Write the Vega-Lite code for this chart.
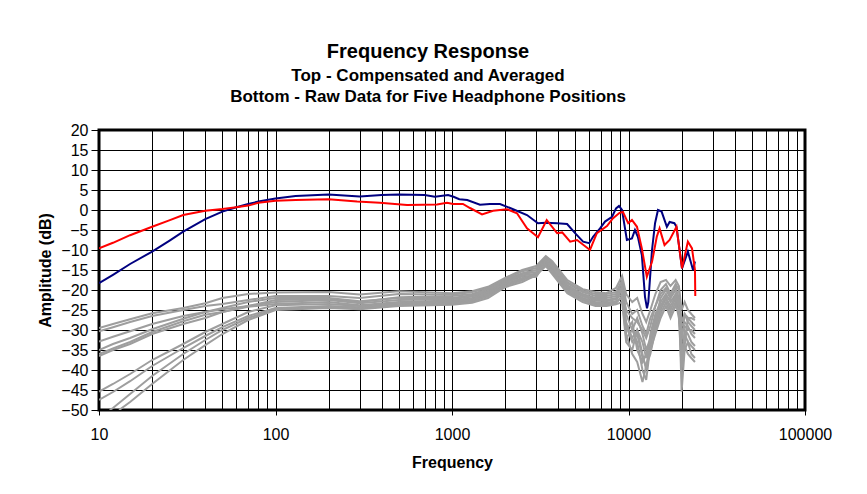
{
"$schema": "https://vega.github.io/schema/vega-lite/v6.json",
"width": 706, "height": 280,
"autosize": {"type": "none"},
"padding": {"left": 99, "top": 130, "right": 62, "bottom": 84},
"background": "white",
"config": {"view": {"stroke": "black", "strokeWidth": 3}, "font": "Liberation Sans"},
"title": {"text": "Frequency Response", "subtitle": ["Top -  Compensated and Averaged", "Bottom - Raw Data for Five Headphone Positions"], "anchor": "middle", "frame": "group", "dx": -24, "offset": 17, "fontSize": 20, "fontWeight": "bold", "font": "Liberation Sans", "color": "#000", "subtitleFontSize": 17, "subtitleFontWeight": "bold", "subtitleColor": "#000", "subtitleFont": "Liberation Sans", "subtitlePadding": 6, "subtitleLineHeight": 21.5},
"datasets": {
"gray": [
{"s":"g1","f":10,"d":-29.5},{"s":"g1","f":12,"d":-28.5},{"s":"g1","f":15,"d":-27.3},{"s":"g1","f":20,"d":-25.8},{"s":"g1","f":30,"d":-24.5},{"s":"g1","f":40,"d":-23.3},{"s":"g1","f":50,"d":-22},{"s":"g1","f":70,"d":-21},{"s":"g1","f":100,"d":-20.6},{"s":"g1","f":200,"d":-20.5},{"s":"g1","f":300,"d":-21.1},{"s":"g1","f":500,"d":-20.3},{"s":"g1","f":1000,"d":-20.8},{"s":"g1","f":1300,"d":-20.3},{"s":"g1","f":1600,"d":-19.2},{"s":"g1","f":2000,"d":-17},{"s":"g1","f":2500,"d":-15},{"s":"g1","f":3000,"d":-14},{"s":"g1","f":3400,"d":-11.5},{"s":"g1","f":3700,"d":-12.8},{"s":"g1","f":4500,"d":-17.5},{"s":"g1","f":5500,"d":-19.8},{"s":"g1","f":6500,"d":-20.5},{"s":"g1","f":7500,"d":-20.8},{"s":"g1","f":8500,"d":-19.5},{"s":"g1","f":9200,"d":-16.5},{"s":"g1","f":9700,"d":-21},{"s":"g1","f":10500,"d":-23},{"s":"g1","f":11200,"d":-22},{"s":"g1","f":12000,"d":-26},{"s":"g1","f":12600,"d":-28},{"s":"g1","f":13300,"d":-25},{"s":"g1","f":14200,"d":-21},{"s":"g1","f":15200,"d":-18},{"s":"g1","f":16300,"d":-17.5},{"s":"g1","f":17300,"d":-19},{"s":"g1","f":18500,"d":-17.5},{"s":"g1","f":19300,"d":-19},{"s":"g1","f":20000,"d":-25},{"s":"g1","f":20800,"d":-23},{"s":"g1","f":21700,"d":-25},{"s":"g1","f":22700,"d":-26},{"s":"g1","f":23800,"d":-27},
{"s":"g2","f":10,"d":-30.3},{"s":"g2","f":12,"d":-29.3},{"s":"g2","f":15,"d":-28},{"s":"g2","f":20,"d":-26.5},{"s":"g2","f":30,"d":-25},{"s":"g2","f":40,"d":-24},{"s":"g2","f":50,"d":-23.5},{"s":"g2","f":70,"d":-22.5},{"s":"g2","f":100,"d":-21.5},{"s":"g2","f":200,"d":-21.5},{"s":"g2","f":300,"d":-22},{"s":"g2","f":500,"d":-21},{"s":"g2","f":1000,"d":-21.2},{"s":"g2","f":1300,"d":-20.5},{"s":"g2","f":1600,"d":-19.5},{"s":"g2","f":2000,"d":-17.3},{"s":"g2","f":2500,"d":-15.3},{"s":"g2","f":3000,"d":-14.5},{"s":"g2","f":3400,"d":-11.8},{"s":"g2","f":3700,"d":-13.2},{"s":"g2","f":4500,"d":-18},{"s":"g2","f":5500,"d":-20.2},{"s":"g2","f":6500,"d":-21},{"s":"g2","f":7500,"d":-21},{"s":"g2","f":8500,"d":-20.5},{"s":"g2","f":9200,"d":-17.5},{"s":"g2","f":9700,"d":-23},{"s":"g2","f":10500,"d":-26},{"s":"g2","f":11200,"d":-25},{"s":"g2","f":12000,"d":-29},{"s":"g2","f":12600,"d":-31},{"s":"g2","f":13300,"d":-27},{"s":"g2","f":14200,"d":-24},{"s":"g2","f":15200,"d":-20},{"s":"g2","f":16300,"d":-18.5},{"s":"g2","f":17300,"d":-21},{"s":"g2","f":18500,"d":-18.5},{"s":"g2","f":19300,"d":-20},{"s":"g2","f":20000,"d":-28},{"s":"g2","f":20800,"d":-26},{"s":"g2","f":21700,"d":-28},{"s":"g2","f":22700,"d":-29},{"s":"g2","f":23800,"d":-30},
{"s":"g3","f":10,"d":-32.9},{"s":"g3","f":12,"d":-31.7},{"s":"g3","f":15,"d":-30.3},{"s":"g3","f":20,"d":-28.5},{"s":"g3","f":30,"d":-26.5},{"s":"g3","f":40,"d":-25.5},{"s":"g3","f":50,"d":-24.8},{"s":"g3","f":70,"d":-24},{"s":"g3","f":100,"d":-22.5},{"s":"g3","f":200,"d":-22.3},{"s":"g3","f":300,"d":-23},{"s":"g3","f":500,"d":-21.8},{"s":"g3","f":1000,"d":-21.5},{"s":"g3","f":1300,"d":-21},{"s":"g3","f":1600,"d":-19.8},{"s":"g3","f":2000,"d":-17.5},{"s":"g3","f":2500,"d":-15.8},{"s":"g3","f":3000,"d":-15},{"s":"g3","f":3400,"d":-12},{"s":"g3","f":3700,"d":-13.5},{"s":"g3","f":4500,"d":-18.3},{"s":"g3","f":5500,"d":-20.5},{"s":"g3","f":6500,"d":-21.5},{"s":"g3","f":7500,"d":-21.5},{"s":"g3","f":8500,"d":-21},{"s":"g3","f":9200,"d":-18},{"s":"g3","f":9700,"d":-26},{"s":"g3","f":10500,"d":-30},{"s":"g3","f":11200,"d":-33},{"s":"g3","f":12000,"d":-40},{"s":"g3","f":12600,"d":-42.5},{"s":"g3","f":13300,"d":-34},{"s":"g3","f":14200,"d":-28},{"s":"g3","f":15200,"d":-22},{"s":"g3","f":16300,"d":-20},{"s":"g3","f":17300,"d":-22},{"s":"g3","f":18500,"d":-20},{"s":"g3","f":19300,"d":-22},{"s":"g3","f":20000,"d":-45.4},{"s":"g3","f":20800,"d":-35},{"s":"g3","f":21700,"d":-33},{"s":"g3","f":22700,"d":-36},{"s":"g3","f":23800,"d":-37},
{"s":"g4","f":10,"d":-35},{"s":"g4","f":12,"d":-33.5},{"s":"g4","f":15,"d":-32},{"s":"g4","f":20,"d":-29.8},{"s":"g4","f":30,"d":-27.2},{"s":"g4","f":40,"d":-25.5},{"s":"g4","f":50,"d":-24.5},{"s":"g4","f":70,"d":-23},{"s":"g4","f":100,"d":-22},{"s":"g4","f":200,"d":-22},{"s":"g4","f":300,"d":-22.8},{"s":"g4","f":500,"d":-22},{"s":"g4","f":1000,"d":-22},{"s":"g4","f":1300,"d":-21.3},{"s":"g4","f":1600,"d":-20.2},{"s":"g4","f":2000,"d":-17.8},{"s":"g4","f":2500,"d":-16},{"s":"g4","f":3000,"d":-15.5},{"s":"g4","f":3400,"d":-12.3},{"s":"g4","f":3700,"d":-14},{"s":"g4","f":4500,"d":-18.8},{"s":"g4","f":5500,"d":-21},{"s":"g4","f":6500,"d":-22},{"s":"g4","f":7500,"d":-22},{"s":"g4","f":8500,"d":-21.5},{"s":"g4","f":9200,"d":-19},{"s":"g4","f":9700,"d":-28},{"s":"g4","f":10500,"d":-32},{"s":"g4","f":11200,"d":-30},{"s":"g4","f":12000,"d":-36},{"s":"g4","f":12600,"d":-40},{"s":"g4","f":13300,"d":-31},{"s":"g4","f":14200,"d":-26},{"s":"g4","f":15200,"d":-23},{"s":"g4","f":16300,"d":-21},{"s":"g4","f":17300,"d":-23},{"s":"g4","f":18500,"d":-21},{"s":"g4","f":19300,"d":-24},{"s":"g4","f":20000,"d":-38},{"s":"g4","f":20800,"d":-30},{"s":"g4","f":21700,"d":-31},{"s":"g4","f":22700,"d":-33},{"s":"g4","f":23800,"d":-34},
{"s":"g5","f":10,"d":-36},{"s":"g5","f":12,"d":-34.6},{"s":"g5","f":15,"d":-33},{"s":"g5","f":20,"d":-30.5},{"s":"g5","f":30,"d":-27.8},{"s":"g5","f":40,"d":-26.2},{"s":"g5","f":50,"d":-25.5},{"s":"g5","f":70,"d":-24},{"s":"g5","f":100,"d":-23},{"s":"g5","f":200,"d":-22.5},{"s":"g5","f":300,"d":-23.3},{"s":"g5","f":500,"d":-22.5},{"s":"g5","f":1000,"d":-22.3},{"s":"g5","f":1300,"d":-21.6},{"s":"g5","f":1600,"d":-20.5},{"s":"g5","f":2000,"d":-18},{"s":"g5","f":2500,"d":-16.3},{"s":"g5","f":3000,"d":-16},{"s":"g5","f":3400,"d":-12.5},{"s":"g5","f":3700,"d":-14.5},{"s":"g5","f":4500,"d":-19.2},{"s":"g5","f":5500,"d":-21.3},{"s":"g5","f":6500,"d":-22.3},{"s":"g5","f":7500,"d":-22.5},{"s":"g5","f":8500,"d":-22},{"s":"g5","f":9200,"d":-20},{"s":"g5","f":9700,"d":-30},{"s":"g5","f":10500,"d":-28},{"s":"g5","f":11200,"d":-35},{"s":"g5","f":12000,"d":-38},{"s":"g5","f":12600,"d":-36},{"s":"g5","f":13300,"d":-33},{"s":"g5","f":14200,"d":-29},{"s":"g5","f":15200,"d":-25},{"s":"g5","f":16300,"d":-22},{"s":"g5","f":17300,"d":-25},{"s":"g5","f":18500,"d":-22},{"s":"g5","f":19300,"d":-25},{"s":"g5","f":20000,"d":-35},{"s":"g5","f":20800,"d":-34},{"s":"g5","f":21700,"d":-27},{"s":"g5","f":22700,"d":-28},{"s":"g5","f":23800,"d":-29},
{"s":"g6","f":10,"d":-36.5},{"s":"g6","f":12,"d":-35},{"s":"g6","f":15,"d":-33.5},{"s":"g6","f":20,"d":-31},{"s":"g6","f":30,"d":-28.5},{"s":"g6","f":40,"d":-27},{"s":"g6","f":50,"d":-25.5},{"s":"g6","f":70,"d":-24.2},{"s":"g6","f":100,"d":-23.5},{"s":"g6","f":200,"d":-23},{"s":"g6","f":300,"d":-23.8},{"s":"g6","f":500,"d":-23},{"s":"g6","f":1000,"d":-22.6},{"s":"g6","f":1300,"d":-22},{"s":"g6","f":1600,"d":-20.8},{"s":"g6","f":2000,"d":-18.2},{"s":"g6","f":2500,"d":-16.6},{"s":"g6","f":3000,"d":-16.5},{"s":"g6","f":3400,"d":-12.8},{"s":"g6","f":3700,"d":-15},{"s":"g6","f":4500,"d":-19.5},{"s":"g6","f":5500,"d":-21.6},{"s":"g6","f":6500,"d":-22.6},{"s":"g6","f":7500,"d":-22.8},{"s":"g6","f":8500,"d":-22.3},{"s":"g6","f":9200,"d":-21},{"s":"g6","f":9700,"d":-25},{"s":"g6","f":10500,"d":-27},{"s":"g6","f":11200,"d":-28},{"s":"g6","f":12000,"d":-30},{"s":"g6","f":12600,"d":-32},{"s":"g6","f":13300,"d":-29},{"s":"g6","f":14200,"d":-24},{"s":"g6","f":15200,"d":-21},{"s":"g6","f":16300,"d":-19.5},{"s":"g6","f":17300,"d":-21.5},{"s":"g6","f":18500,"d":-19},{"s":"g6","f":19300,"d":-23},{"s":"g6","f":20000,"d":-33},{"s":"g6","f":20800,"d":-26},{"s":"g6","f":21700,"d":-27},{"s":"g6","f":22700,"d":-27},{"s":"g6","f":23800,"d":-27.5},
{"s":"g7","f":10,"d":-45.4},{"s":"g7","f":12,"d":-43.5},{"s":"g7","f":15,"d":-41},{"s":"g7","f":20,"d":-37.5},{"s":"g7","f":30,"d":-33.5},{"s":"g7","f":40,"d":-30.5},{"s":"g7","f":50,"d":-28.5},{"s":"g7","f":70,"d":-25.5},{"s":"g7","f":100,"d":-23.8},{"s":"g7","f":200,"d":-23.5},{"s":"g7","f":300,"d":-24},{"s":"g7","f":500,"d":-23.2},{"s":"g7","f":1000,"d":-22.9},{"s":"g7","f":1300,"d":-22.3},{"s":"g7","f":1600,"d":-21},{"s":"g7","f":2000,"d":-18.5},{"s":"g7","f":2500,"d":-17},{"s":"g7","f":3000,"d":-16.7},{"s":"g7","f":3400,"d":-13.2},{"s":"g7","f":3700,"d":-15.3},{"s":"g7","f":4500,"d":-19.8},{"s":"g7","f":5500,"d":-22},{"s":"g7","f":6500,"d":-23},{"s":"g7","f":7500,"d":-23.2},{"s":"g7","f":8500,"d":-22.8},{"s":"g7","f":9200,"d":-19.5},{"s":"g7","f":9700,"d":-31},{"s":"g7","f":10500,"d":-36},{"s":"g7","f":11200,"d":-38},{"s":"g7","f":12000,"d":-43},{"s":"g7","f":12600,"d":-39},{"s":"g7","f":13300,"d":-36},{"s":"g7","f":14200,"d":-30},{"s":"g7","f":15200,"d":-26},{"s":"g7","f":16300,"d":-23},{"s":"g7","f":17300,"d":-26},{"s":"g7","f":18500,"d":-23},{"s":"g7","f":19300,"d":-27},{"s":"g7","f":20000,"d":-40},{"s":"g7","f":20800,"d":-34},{"s":"g7","f":21700,"d":-36},{"s":"g7","f":22700,"d":-37},{"s":"g7","f":23800,"d":-38},
{"s":"g8","f":10,"d":-47.5},{"s":"g8","f":12,"d":-45.5},{"s":"g8","f":15,"d":-42.8},{"s":"g8","f":20,"d":-39},{"s":"g8","f":30,"d":-34.5},{"s":"g8","f":40,"d":-31.5},{"s":"g8","f":50,"d":-29.3},{"s":"g8","f":70,"d":-26.5},{"s":"g8","f":100,"d":-24.5},{"s":"g8","f":200,"d":-24},{"s":"g8","f":300,"d":-24.3},{"s":"g8","f":500,"d":-23.5},{"s":"g8","f":1000,"d":-23.2},{"s":"g8","f":1300,"d":-22.6},{"s":"g8","f":1600,"d":-21.3},{"s":"g8","f":2000,"d":-18.8},{"s":"g8","f":2500,"d":-17.3},{"s":"g8","f":3000,"d":-15.7},{"s":"g8","f":3400,"d":-13.5},{"s":"g8","f":3700,"d":-15.5},{"s":"g8","f":4500,"d":-20.2},{"s":"g8","f":5500,"d":-22.3},{"s":"g8","f":6500,"d":-23.3},{"s":"g8","f":7500,"d":-23.5},{"s":"g8","f":8500,"d":-23},{"s":"g8","f":9200,"d":-22},{"s":"g8","f":9700,"d":-32},{"s":"g8","f":10500,"d":-30},{"s":"g8","f":11200,"d":-27},{"s":"g8","f":12000,"d":-31},{"s":"g8","f":12600,"d":-35},{"s":"g8","f":13300,"d":-32},{"s":"g8","f":14200,"d":-27},{"s":"g8","f":15200,"d":-24},{"s":"g8","f":16300,"d":-22},{"s":"g8","f":17300,"d":-24},{"s":"g8","f":18500,"d":-21.5},{"s":"g8","f":19300,"d":-22},{"s":"g8","f":20000,"d":-29},{"s":"g8","f":20800,"d":-28},{"s":"g8","f":21700,"d":-29},{"s":"g8","f":22700,"d":-31},{"s":"g8","f":23800,"d":-32},
{"s":"g9","f":11.5,"d":-50},{"s":"g9","f":12,"d":-49.5},{"s":"g9","f":15,"d":-46},{"s":"g9","f":20,"d":-41.5},{"s":"g9","f":30,"d":-36},{"s":"g9","f":40,"d":-32.5},{"s":"g9","f":50,"d":-30},{"s":"g9","f":70,"d":-27},{"s":"g9","f":100,"d":-24.8},{"s":"g9","f":200,"d":-24.3},{"s":"g9","f":300,"d":-24.6},{"s":"g9","f":500,"d":-23.8},{"s":"g9","f":1000,"d":-23.4},{"s":"g9","f":1300,"d":-22.9},{"s":"g9","f":1600,"d":-21.6},{"s":"g9","f":2000,"d":-19},{"s":"g9","f":2500,"d":-17.6},{"s":"g9","f":3000,"d":-16},{"s":"g9","f":3400,"d":-13.8},{"s":"g9","f":3700,"d":-15.8},{"s":"g9","f":4500,"d":-20.5},{"s":"g9","f":5500,"d":-22.6},{"s":"g9","f":6500,"d":-23.6},{"s":"g9","f":7500,"d":-23.8},{"s":"g9","f":8500,"d":-23.3},{"s":"g9","f":9200,"d":-21.5},{"s":"g9","f":9700,"d":-29},{"s":"g9","f":10500,"d":-33},{"s":"g9","f":11200,"d":-31},{"s":"g9","f":12000,"d":-37},{"s":"g9","f":12600,"d":-39},{"s":"g9","f":13300,"d":-35},{"s":"g9","f":14200,"d":-31},{"s":"g9","f":15200,"d":-27},{"s":"g9","f":16300,"d":-24},{"s":"g9","f":17300,"d":-27},{"s":"g9","f":18500,"d":-24},{"s":"g9","f":19300,"d":-25},{"s":"g9","f":20000,"d":-36},{"s":"g9","f":20800,"d":-31},{"s":"g9","f":21700,"d":-33},{"s":"g9","f":22700,"d":-34},{"s":"g9","f":23800,"d":-35},
{"s":"g10","f":13,"d":-50},{"s":"g10","f":15,"d":-48},{"s":"g10","f":20,"d":-43.5},{"s":"g10","f":30,"d":-37.5},{"s":"g10","f":40,"d":-33.8},{"s":"g10","f":50,"d":-31},{"s":"g10","f":70,"d":-27.5},{"s":"g10","f":100,"d":-25},{"s":"g10","f":200,"d":-24.5},{"s":"g10","f":300,"d":-24.8},{"s":"g10","f":500,"d":-24},{"s":"g10","f":1000,"d":-23.7},{"s":"g10","f":1300,"d":-23.2},{"s":"g10","f":1600,"d":-22},{"s":"g10","f":2000,"d":-19.3},{"s":"g10","f":2500,"d":-18},{"s":"g10","f":3000,"d":-16.3},{"s":"g10","f":3400,"d":-14},{"s":"g10","f":3700,"d":-16},{"s":"g10","f":4500,"d":-20.8},{"s":"g10","f":5500,"d":-23},{"s":"g10","f":6500,"d":-24},{"s":"g10","f":7500,"d":-24},{"s":"g10","f":8500,"d":-23.6},{"s":"g10","f":9200,"d":-23},{"s":"g10","f":9700,"d":-33},{"s":"g10","f":10500,"d":-35},{"s":"g10","f":11200,"d":-30},{"s":"g10","f":12000,"d":-33},{"s":"g10","f":12600,"d":-37},{"s":"g10","f":13300,"d":-33},{"s":"g10","f":14200,"d":-28},{"s":"g10","f":15200,"d":-24},{"s":"g10","f":16300,"d":-21.5},{"s":"g10","f":17300,"d":-22.5},{"s":"g10","f":18500,"d":-22},{"s":"g10","f":19300,"d":-24},{"s":"g10","f":20000,"d":-31},{"s":"g10","f":20800,"d":-29},{"s":"g10","f":21700,"d":-30},{"s":"g10","f":22700,"d":-30},{"s":"g10","f":23800,"d":-31}
],
"avg": [
{"s":"blue","f":10,"d":-18.3},{"s":"blue","f":12,"d":-16.2},{"s":"blue","f":15,"d":-13.5},{"s":"blue","f":20,"d":-10.4},{"s":"blue","f":25,"d":-7.7},{"s":"blue","f":30,"d":-5.4},{"s":"blue","f":40,"d":-2.3},{"s":"blue","f":50,"d":-0.4},{"s":"blue","f":60,"d":0.7},{"s":"blue","f":70,"d":1.5},{"s":"blue","f":80,"d":2.1},{"s":"blue","f":100,"d":2.9},{"s":"blue","f":130,"d":3.5},{"s":"blue","f":200,"d":3.9},{"s":"blue","f":300,"d":3.4},{"s":"blue","f":400,"d":3.75},{"s":"blue","f":500,"d":3.9},{"s":"blue","f":700,"d":3.75},{"s":"blue","f":800,"d":3.3},{"s":"blue","f":950,"d":3.75},{"s":"blue","f":1020,"d":3.3},{"s":"blue","f":1100,"d":2.7},{"s":"blue","f":1220,"d":2.5},{"s":"blue","f":1440,"d":1.3},{"s":"blue","f":1640,"d":1.5},{"s":"blue","f":1870,"d":1.5},{"s":"blue","f":2220,"d":0.2},{"s":"blue","f":2660,"d":-1.25},{"s":"blue","f":3070,"d":-3.3},{"s":"blue","f":3390,"d":-3.2},{"s":"blue","f":3940,"d":-3.3},{"s":"blue","f":4490,"d":-3.5},{"s":"blue","f":4980,"d":-5.8},{"s":"blue","f":5530,"d":-7.9},{"s":"blue","f":5990,"d":-8.3},{"s":"blue","f":6300,"d":-6.7},{"s":"blue","f":6900,"d":-4.6},{"s":"blue","f":7360,"d":-2.9},{"s":"blue","f":8070,"d":-1.7},{"s":"blue","f":8500,"d":0.4},{"s":"blue","f":8830,"d":1},{"s":"blue","f":9190,"d":0},{"s":"blue","f":9790,"d":-7.5},{"s":"blue","f":10460,"d":-7.1},{"s":"blue","f":10880,"d":-5},{"s":"blue","f":11300,"d":-6.7},{"s":"blue","f":11900,"d":-11.25},{"s":"blue","f":12400,"d":-21.7},{"s":"blue","f":12730,"d":-24.6},{"s":"blue","f":12950,"d":-23},{"s":"blue","f":13590,"d":-10},{"s":"blue","f":14140,"d":-3.3},{"s":"blue","f":14690,"d":0},{"s":"blue","f":15400,"d":-0.4},{"s":"blue","f":16500,"d":-4.2},{"s":"blue","f":17100,"d":-3},{"s":"blue","f":18200,"d":-3.3},{"s":"blue","f":18700,"d":-4.2},{"s":"blue","f":20100,"d":-14.6},{"s":"blue","f":21700,"d":-10.4},{"s":"blue","f":23200,"d":-15},{"s":"blue","f":23800,"d":-12.9},
{"s":"red","f":10,"d":-9.6},{"s":"red","f":12,"d":-8.2},{"s":"red","f":15,"d":-6.3},{"s":"red","f":20,"d":-4.2},{"s":"red","f":25,"d":-2.6},{"s":"red","f":30,"d":-1.25},{"s":"red","f":40,"d":-0.2},{"s":"red","f":50,"d":0.25},{"s":"red","f":60,"d":0.7},{"s":"red","f":70,"d":1.1},{"s":"red","f":80,"d":1.8},{"s":"red","f":100,"d":2.3},{"s":"red","f":130,"d":2.5},{"s":"red","f":200,"d":2.7},{"s":"red","f":290,"d":2.1},{"s":"red","f":390,"d":1.8},{"s":"red","f":556,"d":1.25},{"s":"red","f":822,"d":1.4},{"s":"red","f":937,"d":1.8},{"s":"red","f":1015,"d":1.5},{"s":"red","f":1153,"d":1.5},{"s":"red","f":1265,"d":0.5},{"s":"red","f":1480,"d":-1.1},{"s":"red","f":1710,"d":-0.2},{"s":"red","f":2050,"d":0.2},{"s":"red","f":2335,"d":-0.8},{"s":"red","f":2660,"d":-4.6},{"s":"red","f":3070,"d":-6.8},{"s":"red","f":3440,"d":-2.5},{"s":"red","f":3940,"d":-5.8},{"s":"red","f":4210,"d":-5.6},{"s":"red","f":4670,"d":-7.9},{"s":"red","f":5110,"d":-7.5},{"s":"red","f":6050,"d":-10},{"s":"red","f":6620,"d":-5.8},{"s":"red","f":7550,"d":-4},{"s":"red","f":8150,"d":-2.1},{"s":"red","f":8900,"d":-0.7},{"s":"red","f":9300,"d":-0.5},{"s":"red","f":9960,"d":-3.3},{"s":"red","f":10460,"d":-2.5},{"s":"red","f":11170,"d":-4.2},{"s":"red","f":11900,"d":-9.6},{"s":"red","f":12700,"d":-16.7},{"s":"red","f":13600,"d":-12.9},{"s":"red","f":14460,"d":-6.7},{"s":"red","f":15000,"d":-4.6},{"s":"red","f":16000,"d":-8.75},{"s":"red","f":17100,"d":-7.5},{"s":"red","f":18700,"d":-4.2},{"s":"red","f":20100,"d":-14.6},{"s":"red","f":21700,"d":-7.9},{"s":"red","f":22900,"d":-9.6},{"s":"red","f":23800,"d":-15},{"s":"red","f":23900,"d":-21.5}
]
},
"encoding": {
"x": {"field": "f", "type": "quantitative", "title": "Frequency",
 "scale": {"type": "log", "domain": [10, 100000], "nice": false},
 "axis": {"values": [10,20,30,40,50,60,70,80,90,100,200,300,400,500,600,700,800,900,1000,2000,3000,4000,5000,6000,7000,8000,9000,10000,20000,30000,40000,50000,60000,70000,80000,90000,100000],
  "format": "d", "labelExpr": "indexof([10,100,1000,10000,100000], datum.value) >= 0 ? datum.label : ''",
  "labelOverlap": false, "labelFlush": false, "grid": true, "gridColor": "#000", "gridOpacity": 1, "gridWidth": 1,
  "domain": false, "tickColor": "#000", "tickSize": 5, "tickWidth": 1,
  "tickOpacity": {"condition": {"test": "indexof([10,100,1000,10000,100000], datum.value) >= 0", "value": 1}, "value": 0},
  "labelFontSize": 16, "labelColor": "#000", "labelPadding": 11, "labelFont": "Liberation Sans",
  "titleFontSize": 16, "titleFontWeight": "bold", "titleColor": "#000", "titlePadding": 12, "titleFont": "Liberation Sans"}},
"y": {"field": "d", "type": "quantitative", "title": "Amplitude (dB)",
 "scale": {"domain": [-50, 20], "nice": false, "zero": false},
 "axis": {"values": [-50,-45,-40,-35,-30,-25,-20,-15,-10,-5,0,5,10,15,20],
  "grid": true, "gridColor": "#000", "gridOpacity": 1, "gridWidth": 1, "domain": false,
  "tickColor": "#000", "tickSize": 8, "tickWidth": 1,
  "labelFontSize": 16, "labelColor": "#000", "labelPadding": 3, "labelFont": "Liberation Sans",
  "titleFontSize": 16, "titleFontWeight": "bold", "titleColor": "#000", "titlePadding": 7, "titleFont": "Liberation Sans"}}
},
"layer": [
{"data": {"name": "gray"}, "mark": {"type": "line", "color": "#9e9e9e", "strokeWidth": 2, "clip": true},
 "encoding": {"detail": {"field": "s", "type": "nominal"}}},
{"data": {"name": "avg"}, "mark": {"type": "line", "strokeWidth": 2, "clip": true},
 "encoding": {"color": {"field": "s", "type": "nominal", "scale": {"domain": ["blue", "red"], "range": ["#000080", "#ff0000"]}, "legend": null}}}
]
}
